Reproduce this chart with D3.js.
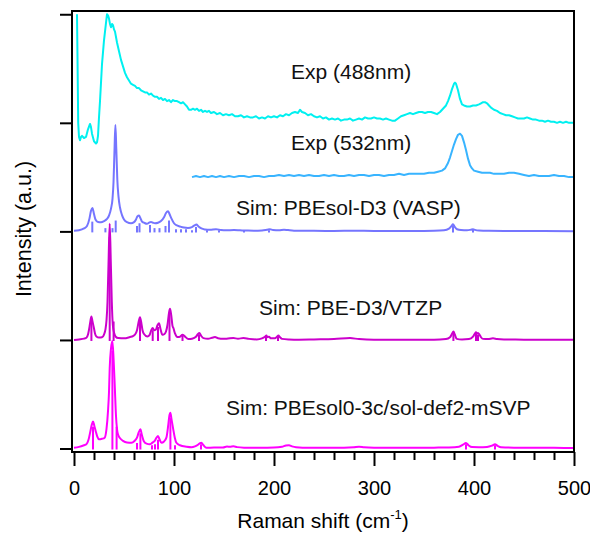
<!DOCTYPE html>
<html>
<head>
    <meta charset="UTF-8"/>
    <style>
        body {
            margin: 0;
            background: white;
            font-family: "Liberation Sans", Arial, Helvetica, sans-serif;
        }
    </style>
</head>
<body>
<script src="https://d3js.org/d3.v7.min.js"></script>
<div id="my_dataviz"></div>
<script>

    // spectra, [Raman shift, intensity above own baseline]
    var exp488 = [[3,100],[3.5,60],[4.2,0],[5,-13],[6,-16],[7,-13],[8,-12],[10,-14],[12,-13],[14,-6],[16,-1],[17,-4],[18,-10],[20,-17],[22,-19],[23,-18],[24,-12],[25,5],[26,20],[28,54],[30,76],[32,92],[33,100],[34,99],[35,96],[36,91],[37,88],[38,91],[39,90],[40,86],[41,84],[43,74],[45,66],[47,58],[49,52],[51,46],[53,42],[55,39],[57,36],[59,35],[61,34],[63,32],[65,32],[67,30],[69,29],[71,28],[73,28],[75,26],[77,27],[79,25],[81,24],[83,24],[85,22],[87,23],[89,21],[91,22],[93,20],[95,21],[97,19],[99,21],[101,20],[103,20],[105,19],[107,18],[109,19],[111,17],[113,15],[115,12],[117,12],[119,13],[121,12],[123,13],[125,11],[127,12],[129,10],[131,11],[133,10],[135,11],[137,9],[140,10],[143,8],[146,9],[149,7],[152,8],[155,7],[158,8],[161,6],[164,6],[167,7],[170,5],[173,6],[176,5],[179,5],[182,6],[185,4],[188,5],[191,4],[194,6],[197,5],[200,6],[203,5],[206,7],[209,6],[212,8],[215,7],[218,9],[221,10],[224,9],[226,12],[228,10],[231,9],[234,7],[237,8],[240,6],[243,5],[246,6],[249,4],[252,5],[255,3],[258,4],[261,3],[264,4],[267,2],[270,3],[273,3],[276,4],[279,2],[282,3],[285,4],[288,3],[291,5],[294,4],[297,4],[300,5],[303,4],[306,4],[309,3],[312,4],[315,3],[318,2],[321,2],[324,4],[327,6],[330,7],[333,8],[336,9],[339,8],[342,9],[345,10],[348,10],[351,9],[354,10],[357,10],[360,9],[363,8],[366,10],[369,13],[372,16],[374,20],[376,25],[378,31],[380,36],[381,37],[382,36],[384,30],[386,22],[388,17],[390,16],[393,15],[396,15],[399,16],[402,16],[405,17],[407,18],[409,19],[411,19],[413,18],[415,16],[417,14],[420,12],[423,11],[426,9],[429,8],[432,7],[435,7],[438,6],[441,5],[444,4],[447,4],[450,4],[453,5],[456,4],[459,3],[462,3],[465,2],[468,2],[471,1],[474,2],[477,1],[480,1],[483,0],[486,1],[489,0],[492,1],[495,0],[498,0],[500,0]];

    var exp532 = [[118,0],[122,1],[126,0],[130,1],[134,0],[138,1],[142,0],[146,1],[150,0],[155,1],[160,0],[165,1],[170,1],[175,0],[180,1],[185,1],[190,0],[195,1],[200,1],[205,2],[210,1],[215,2],[220,1],[225,2],[230,1],[235,2],[240,1],[245,1],[250,2],[255,1],[260,2],[265,1],[270,1],[275,2],[280,1],[285,2],[290,2],[295,1],[300,2],[305,2],[310,1],[315,2],[320,2],[325,3],[330,2],[335,3],[340,3],[345,3],[350,3],[355,4],[360,4],[364,5],[368,6],[371,8],[374,13],[376,18],[378,24],[380,30],[382,35],[384,39],[386,40],[388,38],[390,32],[392,25],[394,17],[396,11],[398,8],[400,6],[404,5],[408,4],[412,4],[416,4],[420,3],[425,3],[430,3],[435,4],[440,4],[445,3],[450,2],[455,1],[460,2],[465,1],[470,1],[475,1],[480,2],[485,1],[490,1],[495,0],[500,0]];

    var simVasp = [[0,0.5],[5,1],[10,2.7],[13,5],[15.5,12],[17,19],[18.4,21.6],[20,16],[21.5,11],[24,8.7],[27,8.5],[30,9.5],[33,11.5],[35,14.5],[37,21],[38.5,30],[39.5,45],[40.5,75],[41.4,98],[42.3,76],[43.3,48],[44.5,32],[46,22],[48,15],[50,11],[53,8.5],[57,7.5],[60,8.5],[62,11],[63.5,14],[65,14.6],[66.5,12],[68,9],[70,8],[73,7],[75,8],[77,8.7],[79,8],[81,7.5],[84,8],[87,9.5],[90,13],[92,17],[94,18.6],[95.5,16],[97.4,12],[100,7.5],[102.4,5.7],[106,4.5],[110,3.5],[114,3.2],[118,4],[120.5,5.5],[122.4,6.3],[124.5,4.5],[127.4,2.7],[131,1.8],[136,1.4],[142,2],[147,1.3],[152,1],[160,1.2],[166,1],[172,0.8],[180,0.6],[188,0.8],[193,1.5],[196,2],[199,1.2],[205,1],[210,1.6],[214,1.2],[220,0.7],[230,0.6],[240,0.5],[260,0.4],[280,0.6],[300,0.4],[320,0.4],[340,0.4],[360,0.6],[370,1],[375,2.5],[377.5,5],[379,6.6],[380.5,4.5],[383,2],[387,1.2],[393,1],[397,1.6],[399,2],[401,1.4],[405,0.8],[415,0.5],[430,0.4],[450,0.4],[470,0.3],[500,0.2]];

    var simPbe = [[0,0],[5,0.5],[10,1.2],[12.4,2],[14,5],[15.5,12],[16.5,18],[17.4,21.6],[18.5,17],[19.7,12],[21,6],[22.4,3.2],[25,2.2],[28,2.5],[30,5],[31.5,10],[32.5,18],[33.5,35],[34.5,70],[35.7,107],[36.8,72],[37.8,35],[38.8,14],[39.5,9],[40.3,6],[41.5,3.2],[44.4,1.7],[50,1.5],[56,2.7],[59,3.5],[61,5],[63,9],[64.5,16],[66,21],[67.3,16],[68.5,9],[70,5.5],[73.4,3.2],[75.5,4.5],[77.3,9],[78.7,11],[80.2,9],[81.7,9.4],[83.5,13.5],[85,15.5],[86.5,10],[88.4,4.8],[90.5,5.5],[92,7.8],[93.5,14],[95,25],[96,28.7],[97.2,23],[98.5,13],[99.4,11],[101,6],[103.4,2.7],[106,3],[108.5,4.8],[110.5,3.5],[114.4,0.8],[118,1.2],[122,3],[124,5.5],[125.4,6.3],[127,4],[129.4,1.7],[134,1.2],[138,2],[141,2.7],[144,1.5],[149.4,1],[154,1.3],[159.4,1.7],[164,1.2],[169.4,1.7],[175,1],[182.7,0.5],[188,1.5],[191,3],[192.4,4],[193.5,2.5],[195,3],[197,1.5],[201,1.5],[203,3],[204.4,4],[206,2.5],[208,1],[215,0.5],[225,0.3],[240,0.5],[260,0.8],[276,1.7],[285,0.8],[300,0.3],[330,0.3],[360,0.3],[372,0.8],[376,2.5],[378.2,6],[379.4,7.8],[380.8,5],[382.7,1],[388,0.5],[395,0.8],[399,3],[401,6],[402,7],[403,6],[404,6.5],[405.4,5],[407,2.5],[409,1],[414,0.8],[419,1.5],[423,0.8],[430,0.4],[450,0.3],[480,0.3],[500,0.2]];

    var simPbesol0 = [[0,0.7],[5,1.5],[10,3],[12.4,3.9],[14.5,8],[16.4,16],[17.8,22],[19,25],[20.3,21],[21.7,16],[23.3,11],[25,8.5],[28,9],[30.7,10],[32.5,18],[34,34.5],[35,52],[35.7,74],[37,92],[38.4,99],[39.6,82],[40.7,59],[42,30],[43,18],[44,13],[46.5,9],[49,7],[53,5.5],[57.4,5.3],[60.5,7],[63,10],[64.8,15],[66.4,17.7],[68,12],[69.7,7],[72.5,4.5],[75.7,3.9],[78.5,5.5],[80.7,7],[82.5,10],[84,11.5],[85.5,8.5],[87.4,5.3],[90,6.5],[92.4,10],[94.3,22],[95.5,31],[96.4,33],[97.5,27],[99,19],[100.8,10],[102.4,5.3],[106,3],[112.4,1.7],[117.4,1.2],[121,2],[124,3.5],[126,5],[127.4,5.3],[129.5,3],[132.4,0.7],[140,0.9],[149,0.9],[153,1.8],[156,1.6],[159.4,2],[163,1.3],[170,0.8],[179.4,0.7],[190,0.8],[200,0.9],[208,1.6],[212,2.8],[215,3],[218,2],[222,1.2],[235,0.7],[250,0.7],[270,0.8],[280,1.2],[285,1.6],[290,1.1],[300,0.7],[320,0.6],[340,0.6],[360,0.8],[375,1],[385,1.6],[389,3.5],[392,5.1],[394.5,3],[398,1.3],[405,1.2],[413,1.5],[418,2.7],[421,3.9],[423.5,2.5],[427,1.2],[440,0.8],[460,0.7],[480,0.6],[500,0.5]];

    // calculated mode positions and (scaled) activities
    var sticksVasp = [[18.3,9],[31.4,3],[38.5,3],[41.7,10],[63,5],[65.5,7.5],[76,6],[80.5,3],[85.5,3],[91.5,5],[95,10],[102,2],[107,2],[112,2],[118,1],[122,4],[133,1],[145,1],[170,1],[195,1],[379,5],[399,1.5]];
    var sticksPbe = [[17.4,18],[35.7,95],[39.6,17],[66,18],[78.7,9],[84,12],[95.5,25],[108.5,4],[125,5],[192,3],[204,3],[379.4,7],[402,6],[404,5]];
    var sticksPbesol0 = [[19,20],[38.4,90],[42.6,20],[63,5],[66.4,14],[78,3],[81,4],[84,8],[96.4,28],[101,3],[127,4],[392,4],[421,3]];

    var labels = ["Exp (488nm)", "Exp (532nm)", "Sim: PBEsol-D3 (VASP)", "Sim: PBE-D3/VTZP", "Sim: PBEsol0-3c/sol-def2-mSVP"];
    var offsets = [300, 250, 200, 100, 0];
    var xTicks = [0, 100, 200, 300, 400, 500];
    var yTicks = [0, 100, 200, 300, 400];

    var colors = ["#00F0F0", "#38B4FF", "#7575FF", "#CC00CC", "#FF00FF"];

    var W = 590, H = 533;
    var pLeft = 72, pRight = 574, pTop = 11, pBottom = 452;

    var svg = d3.select("#my_dataviz")
        .append("svg")
        .attr("width", W)
        .attr("height", H)
        .style("display", "block");

    var x = d3.scaleLinear().domain([-2, 500]).range([pLeft, pRight]);
    var y = d3.scaleLinear().domain([-3.2, 403]).range([pBottom, pTop]);

    svg.append("clipPath").attr("id", "clip")
        .append("rect")
        .attr("x", pLeft).attr("y", pTop)
        .attr("width", pRight - pLeft).attr("height", pBottom - pTop);

    var plot = svg.append("g").attr("clip-path", "url(#clip)");

    var series = [exp488, exp532, simVasp, simPbe, simPbesol0];
    var sticks = [null, null, sticksVasp, sticksPbe, sticksPbesol0];

    // sticks first, curves on top
    sticks.forEach(function(s, i) {
        if (!s) return;
        plot.selectAll(".stick" + i)
            .data(s)
            .enter()
            .append("line")
            .attr("x1", function(d){ return x(d[0]) })
            .attr("x2", function(d){ return x(d[0]) })
            .attr("y1", y(offsets[i]) + 1)
            .attr("y2", function(d){ return y(offsets[i] + d[1]) })
            .attr("stroke", colors[i])
            .attr("stroke-width", 2);
    });

    series.forEach(function(s, i) {
        var line = d3.line()
            .x(function(d){ return x(d[0]) })
            .y(function(d){ return y(offsets[i] + d[1]) })
            .curve(i < 2 ? d3.curveLinear : d3.curveMonotoneX);
        plot.append("path")
            .datum(s)
            .attr("d", line)
            .attr("fill", "none")
            .attr("stroke", colors[i])
            .attr("stroke-width", 2)
            .attr("stroke-linejoin", "round");
    });

    // bottom axis: major + minor ticks
    var minor = d3.range(20, 500, 20).filter(function(v){ return v % 100 != 0 });
    var xAxis = svg.append("g")
        .attr("transform", "translate(0," + pBottom + ")")
        .call(d3.axisBottom(x).tickValues(xTicks).tickSize(14).tickFormat(d3.format("d")));
    xAxis.selectAll("text").attr("y", 43).attr("dy", null)
        .attr("font-size", "20px").attr("fill", "black")
        .attr("font-family", "'Liberation Sans', Arial, sans-serif");
    svg.append("g")
        .attr("transform", "translate(0," + pBottom + ")")
        .call(d3.axisBottom(x).tickValues(minor).tickSize(8).tickFormat(""));

    svg.append("g")
        .attr("transform", "translate(" + pLeft + ",0)")
        .call(d3.axisLeft(y).tickValues(yTicks).tickSize(12).tickFormat(""));

    svg.selectAll(".domain").remove();
    svg.selectAll(".tick line").attr("stroke", "black").attr("stroke-width", 2);

    // frame
    svg.append("rect")
        .attr("x", pLeft).attr("y", pTop)
        .attr("width", pRight - pLeft).attr("height", pBottom - pTop)
        .attr("fill", "none").attr("stroke", "black").attr("stroke-width", 2);

    // trace labels
    var labelPos = [[217, 79], [217, 150], [162, 215], [185, 315], [152, 415]];
    svg.selectAll(".lab")
        .data(labels)
        .enter()
        .append("text")
        .attr("x", function(d, i){ return x(labelPos[i][0]) })
        .attr("y", function(d, i){ return labelPos[i][1] })
        .attr("font-size", "21px")
        .attr("fill", "#111")
        .text(function(d){ return d });

    // axis titles
    var xt = svg.append("text")
        .attr("x", 323).attr("y", 528)
        .attr("text-anchor", "middle")
        .attr("font-size", "21px");
    xt.append("tspan").text("Raman shift (cm");
    xt.append("tspan").attr("font-size", "13px").attr("dy", -9).text("-1");
    xt.append("tspan").attr("dy", 9).text(")");

    svg.append("text")
        .attr("transform", "translate(31,229) rotate(-90)")
        .attr("text-anchor", "middle")
        .attr("font-size", "21.5px")
        .text("Intensity (a.u.)");

</script>
</body>
</html>
